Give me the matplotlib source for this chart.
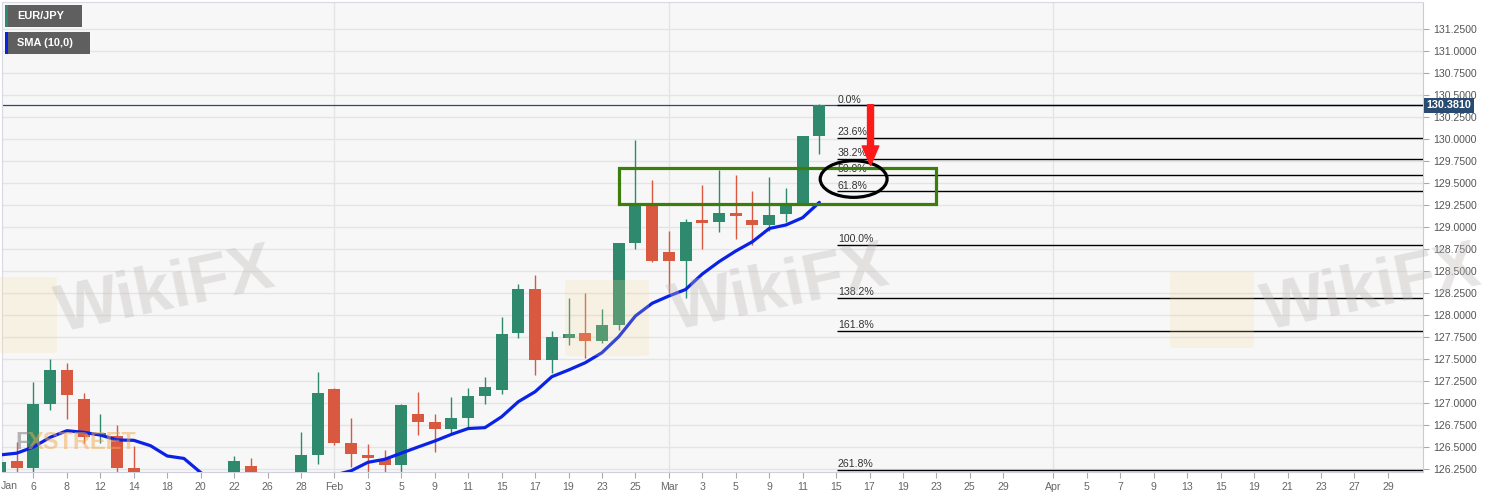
import matplotlib
matplotlib.use("Agg")
import matplotlib.pyplot as plt
import matplotlib.transforms as mtransforms
from matplotlib.patches import Rectangle, Ellipse, FancyBboxPatch

plt.rcParams['font.family'] = ['Liberation Sans', 'DejaVu Sans']

# 日线 OHLC（按柱序号）
opens = [126.20, 126.34, 126.26, 126.99, 127.37, 127.05, 126.62, 126.63, 126.26, 126.10,
         125.95, 125.85, 126.00, 125.95, 126.10, 126.28, 126.12, 126.00, 126.10, 126.41,
         127.16, 126.54, 126.41, 126.36, 126.30, 126.88, 126.78, 126.70, 126.83, 127.08,
         127.15, 127.79, 128.29, 127.49, 127.74, 127.79, 127.70, 127.89, 128.82, 129.24,
         128.72, 128.61, 129.07, 129.06, 129.16, 129.08, 129.02, 129.15, 129.27, 130.03]
highs = [126.79, 126.56, 127.24, 127.50, 127.46, 127.11, 126.87, 126.75, 126.51, 126.18,
         126.10, 126.05, 126.12, 126.10, 126.40, 126.38, 126.20, 126.15, 126.67, 127.35,
         127.17, 126.83, 126.53, 126.47, 126.99, 127.13, 126.88, 127.07, 127.17, 127.30,
         127.98, 128.35, 128.46, 127.82, 128.19, 128.25, 128.07, 128.82, 129.99, 129.53,
         128.96, 129.09, 129.48, 129.65, 129.59, 129.41, 129.57, 129.44, 130.03, 130.40]
lows = [126.15, 126.20, 126.20, 126.92, 126.82, 126.55, 126.55, 126.22, 126.10, 125.90,
        125.80, 125.75, 125.85, 125.80, 126.00, 126.05, 125.90, 125.85, 126.05, 126.31,
        126.52, 126.27, 126.20, 126.20, 126.18, 126.64, 126.44, 126.66, 126.71, 126.99,
        127.10, 127.74, 127.32, 127.34, 127.66, 127.51, 127.68, 127.83, 128.75, 128.60,
        128.25, 128.19, 128.75, 128.94, 128.86, 128.80, 128.95, 129.06, 129.26, 129.83]
closes = [126.33, 126.26, 126.99, 127.37, 127.09, 126.61, 126.66, 126.26, 126.15, 125.95,
          125.85, 126.00, 125.95, 126.05, 126.34, 126.12, 126.00, 126.10, 126.41, 127.11,
          126.54, 126.42, 126.37, 126.29, 126.98, 126.78, 126.70, 126.83, 127.08, 127.18,
          127.78, 128.29, 127.49, 127.75, 127.78, 127.70, 127.89, 128.82, 129.24, 128.61,
          128.61, 129.06, 129.05, 129.16, 129.13, 129.02, 129.14, 129.26, 130.03, 130.381]

# SMA(10)
sma = [126.41, 126.43, 126.50, 126.61, 126.685, 126.667, 126.636, 126.58, 126.576, 126.515,
       126.398, 126.37, 126.21, 126.05, 125.95, 125.90, 125.90, 125.95, 126.05, 126.12,
       126.18, 126.23, 126.326, 126.36, 126.43, 126.50, 126.568, 126.644, 126.71, 126.72,
       126.844, 127.015, 127.128, 127.299, 127.375, 127.458, 127.572, 127.753, 127.989, 128.133,
       128.216, 128.29, 128.466, 128.606, 128.727, 128.833, 128.983, 129.023, 129.106, 129.28]

xtick_pos = list(range(0, 61, 2)) + list(range(63, 84, 2))
xtick_lab = ["Jan", "6", "8", "12", "14", "18", "20", "22", "26", "28",
             "Feb", "3", "5", "9", "11", "15", "17", "19", "23", "25",
             "Mar", "3", "5", "9", "11", "15", "17", "19", "23", "25", "29",
             "Apr", "5", "7", "9", "13", "15", "19", "21", "23", "27", "29"]
month_pos = [20, 40, 63]

fib_high = 130.381
fib_low = 128.80
fib_ratios = [0.0, 0.236, 0.382, 0.5, 0.618, 1.0, 1.382, 1.618, 2.618]
fib_labels = ["0.0%", "23.6%", "38.2%", "50.0%", "61.8%", "100.0%", "138.2%", "161.8%", "261.8%"]
last_price = 130.381

GREEN = "#2f8a6d"
RED = "#d95840"
W, H = 1493, 498

fig = plt.figure(figsize=(W / 100, H / 100), dpi=100)
fig.patch.set_facecolor("white")
ax = fig.add_axes([2 / W, 26 / H, 1421 / W, 470 / H])
ax.set_facecolor("#f7f7f7")
ax.set_xlim(0.12, 85.1)
ax.set_ylim(126.216, 131.557)

# 网格
yt = [126.25 + 0.25 * k for k in range(21)]
for v in yt:
    ax.axhline(v, color="#e4e4e4", lw=1, zorder=0)
for m in month_pos:
    ax.axvline(m, color="#e4e4e4", lw=1, zorder=0)

# 蜡烛
for i in range(len(opens)):
    o, h, l, c = opens[i], highs[i], lows[i], closes[i]
    col = GREEN if c >= o else RED
    ax.vlines(i, l, h, color=col, lw=1, zorder=2)
    bot = min(o, c)
    ht = max(abs(c - o), 0.025)
    ax.bar(i, ht, bottom=bot, width=0.72, color=col, zorder=3, linewidth=0)

ax.plot(range(len(sma)), sma, color="#0a22e6", lw=2.3, zorder=4, solid_capstyle="round")

# 最新价线
ax.axhline(last_price, color="#2b4a6f", lw=0.9, zorder=1)

# 斐波那契
rng = fib_high - fib_low
for r, lab in zip(fib_ratios, fib_labels):
    lv = fib_high - r * rng
    ax.hlines(lv, 50.06, 85.1, color="black", lw=1, zorder=5)
    ax.text(50.1, lv + 0.01, lab, fontsize=7.6, color="#333333", va="bottom", ha="left", zorder=6)

# 标注
ax.add_patch(Rectangle((37.0, 129.258), 19.0, 0.409, fill=False, edgecolor="#3c7d0c", lw=2.3, zorder=7))
ax.add_patch(Ellipse((51.05, 129.545), 4.0, 0.416, fill=False, edgecolor="black", lw=2.3, zorder=7))
ax.annotate("", xy=(52.06, 129.70), xytext=(52.06, 130.39),
            arrowprops=dict(facecolor="#ff1a1a", edgecolor="#ff1a1a", width=4.3,
                            headwidth=12, headlength=14, shrink=0), zorder=8)

# 水印
wm = dict(fontsize=48, fontweight="bold", color="#bdb6b6", alpha=0.35, rotation=12,
          ha="center", va="center", zorder=9)
for (px, py) in [(166, 292), (780, 290), (1372, 290)]:
    fig.text(px / W, 1 - py / H, "WikiFX", **wm)
for (px, py) in [(15, 315), (607, 318), (1212, 310)]:
    fig.patches.append(FancyBboxPatch(((px - 36) / W, 1 - (py + 36) / H), 72 / W, 72 / H,
                                      boxstyle="round,pad=0.004", transform=fig.transFigure,
                                      facecolor="#f3d98f", edgecolor="none", alpha=0.2, zorder=9))
fig.text(15 / W, 1 - 442 / H, "F", fontsize=17, fontweight="bold", color="#8a8a8a", alpha=0.6,
         va="center", ha="left", zorder=9)
fig.text(28 / W, 1 - 442 / H, "XSTREET", fontsize=17, fontweight="bold", color="#f0a850", alpha=0.5,
         va="center", ha="left", zorder=9)

# 坐标轴
ax.yaxis.tick_right()
ax.set_yticks(yt)
ax.set_yticklabels(["%.4f" % v for v in yt])
ax.tick_params(axis="y", length=4, width=0.8, color="#aaaaaa", labelsize=7.6, labelcolor="#555555", pad=3)
ax.set_xticks(xtick_pos[1:])
ax.set_xticklabels(xtick_lab[1:])
ax.tick_params(axis="x", length=4, width=0.8, color="#aaaaaa", labelsize=7.6, labelcolor="#666666", pad=3)
fig.text(9 / W, 1 - 486 / H, xtick_lab[0], fontsize=7.6, color="#666666", ha="center", va="center")
for s in ["left", "top"]:
    ax.spines[s].set_color("#d9d9e6")
ax.spines["right"].set_color("#cccccc")
ax.spines["bottom"].set_color("#cfd0df")

# 最新价标签
tr = mtransforms.blended_transform_factory(ax.transAxes, ax.transData)
ax.text(1.0025, last_price, "130.3810", transform=tr, fontsize=7.8, fontweight="bold", color="white",
        va="center", ha="left", clip_on=False,
        bbox=dict(boxstyle="square,pad=0.25", facecolor="#2a4b70", edgecolor="none"))
ax.plot([1.002], [last_price], marker="<", ms=5, color="#2a4b70", transform=tr, clip_on=False)

# 图例
for (y0, wbox, lab, stripe) in [(5, 77, "EUR/JPY", GREEN), (32, 85, "SMA (10,0)", "#0a22e6")]:
    fig.patches.append(Rectangle((5 / W, 1 - (y0 + 22) / H), wbox / W, 22 / H,
                                 transform=fig.transFigure, facecolor="#5f5f5f", edgecolor="none", zorder=10))
    fig.patches.append(Rectangle((5 / W, 1 - (y0 + 22) / H), 3 / W, 22 / H,
                                 transform=fig.transFigure, facecolor=stripe, edgecolor="none", zorder=11))
    fig.text(17 / W, 1 - (y0 + 11) / H, lab, fontsize=7.9, fontweight="bold", color="white",
             va="center", ha="left", zorder=12)

fig.savefig("out.png", dpi=100)
